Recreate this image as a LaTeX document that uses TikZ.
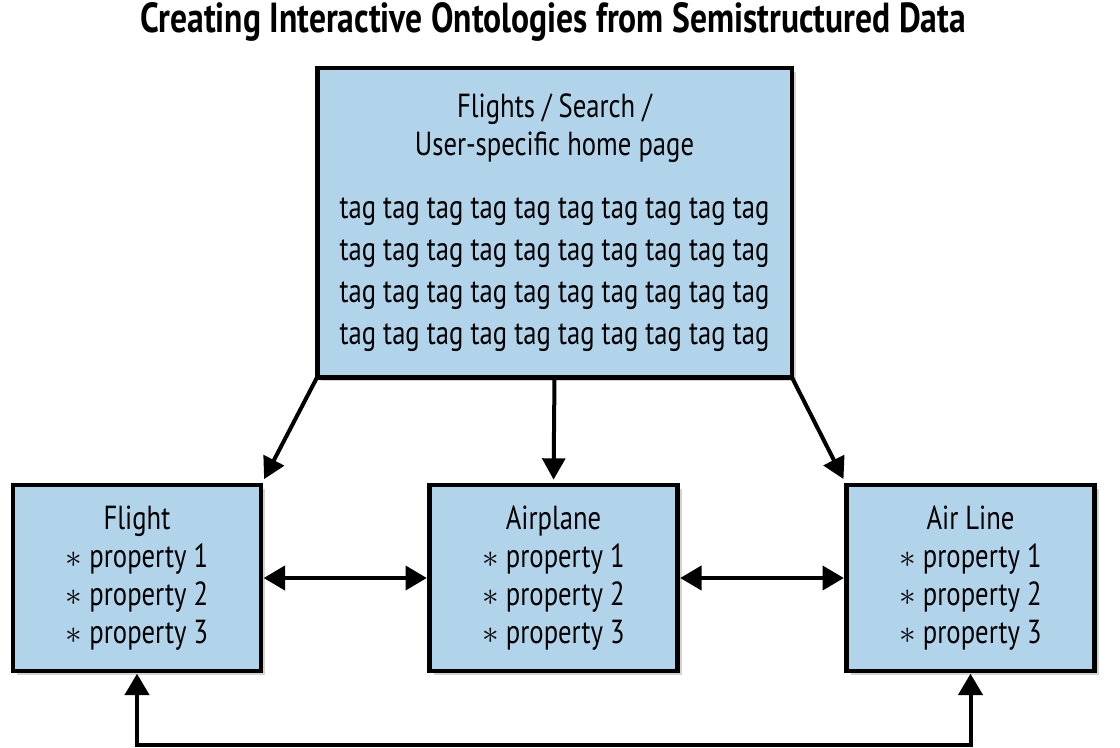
\documentclass[tikz,border=0pt]{standalone}
\usepackage{fontspec}
\setmainfont{PT Sans}[FakeStretch=0.8]
\usetikzlibrary{arrows.meta,shadows,positioning}
\definecolor{boxblue}{HTML}{B1D4EA}
\tikzset{
  px/.style={x=0.75pt,y=-0.75pt},
  box/.style={draw=black, line width=3.5pt, fill=boxblue, inner sep=0pt, outer sep=0pt,
    drop shadow={opacity=0.35, shadow xshift=3pt, shadow yshift=-3pt},
    align=center, font=\fontsize{25}{28.5}\selectfont},
  conn/.style={line width=3pt, -{Triangle[length=16pt,width=17pt]}},
  dconn/.style={line width=3pt, {Triangle[length=16pt,width=18pt]}-{Triangle[length=16pt,width=18pt]}},
}
\begin{document}
\begin{tikzpicture}[px]
\useasboundingbox (0,0) rectangle (1120,747);
\node[font=\bfseries\fontsize{31.5}{36}\selectfont] (title) at (553,22) {Creating Interactive Ontologies from Semistructured Data};
\node[box, minimum width=356pt, minimum height=232pt] (top) at (554.5,222.5)
  {Flights / Search /\\User-specific home page\\[19pt]
   tag tag tag tag tag tag tag tag tag tag\\[3pt]
   tag tag tag tag tag tag tag tag tag tag\\[3pt]
   tag tag tag tag tag tag tag tag tag tag\\[3pt]
   tag tag tag tag tag tag tag tag tag tag};
\node[box, minimum width=186pt, minimum height=139.5pt] (flight) at (137,578)
  {Flight\\$\ast$ property 1\\$\ast$ property 2\\$\ast$ property 3};
\node[box, minimum width=186pt, minimum height=139.5pt] (airplane) at (553.5,578)
  {Airplane\\$\ast$ property 1\\$\ast$ property 2\\$\ast$ property 3};
\node[box, minimum width=186pt, minimum height=139.5pt] (airline) at (970.5,578)
  {Air Line\\$\ast$ property 1\\$\ast$ property 2\\$\ast$ property 3};
\draw[conn, shorten >=5pt] (top.south west) -- (flight.north east);
\draw[conn, shorten >=4pt] (top.south) -- (airplane.north);
\draw[conn, shorten >=5pt] (top.south east) -- (airline.north west);
\draw[dconn, shorten >=2pt, shorten <=2pt] (flight.east) -- (airplane.west);
\draw[dconn, shorten >=2pt, shorten <=2pt] (airplane.east) -- (airline.west);
\coordinate (bl) at (137,745);
\draw[dconn, shorten >=2pt, shorten <=2pt] (flight.south) |- (bl) -| (airline.south);
\end{tikzpicture}
\end{document}
